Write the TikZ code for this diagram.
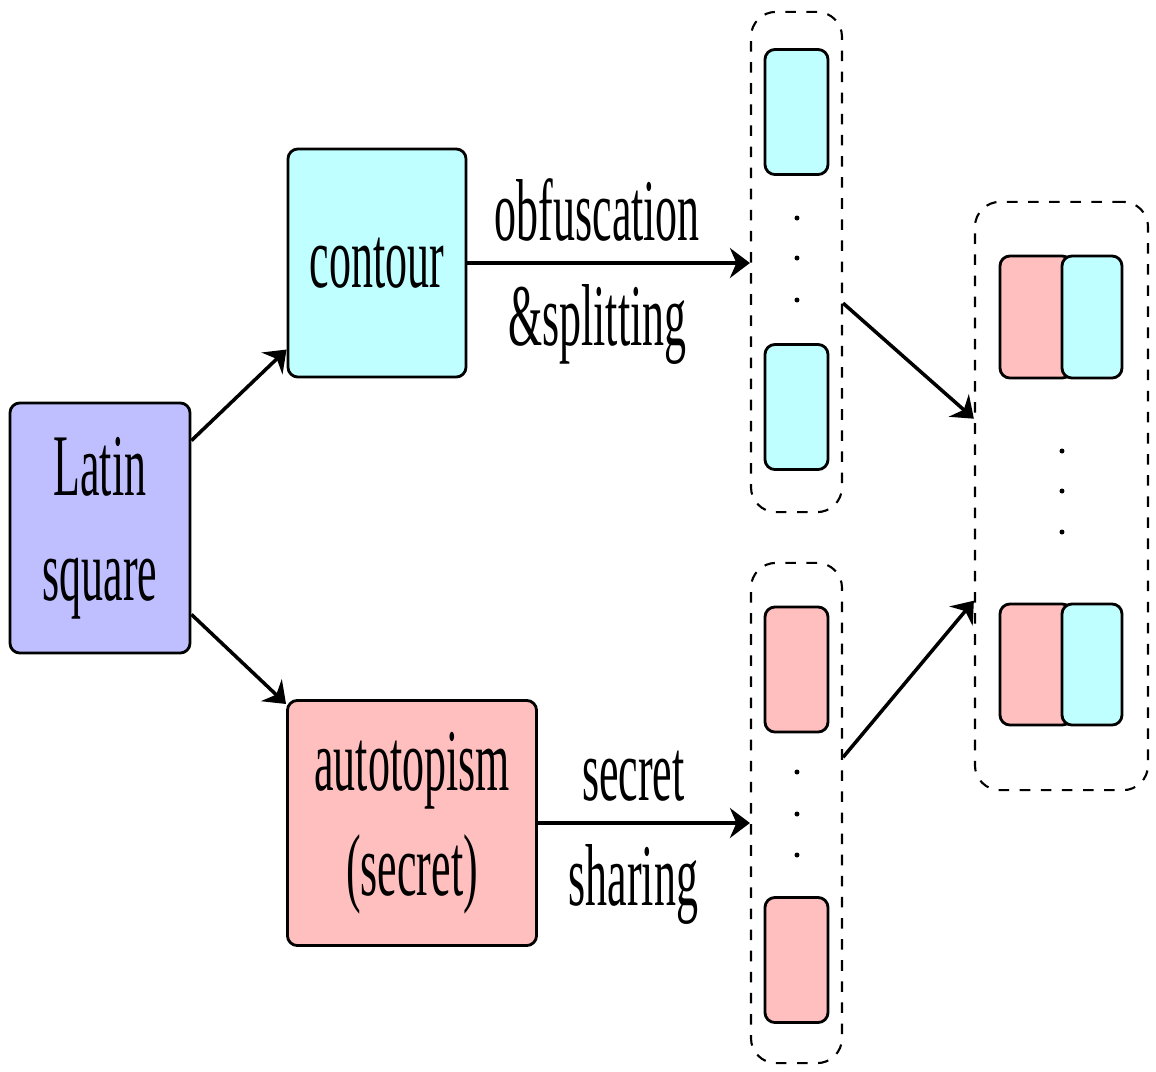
\documentclass[tikz,border=0pt]{standalone}
\usepackage{fontspec}
\setmainfont{Liberation Serif}[FakeStretch=0.5]
\usetikzlibrary{arrows.meta}
\definecolor{lblue}{RGB}{191,191,255}
\definecolor{lcyan}{RGB}{191,255,255}
\definecolor{lpink}{RGB}{255,191,191}

\begin{document}
\begin{tikzpicture}[x=0.01cm, y=-0.01cm, font=\fontsize{25}{30}\selectfont, line join=round, >={Stealth[length=0.2cm,width=0.3cm]},
	box/.style={draw, line width=0.8pt, rounded corners=0.1cm, align=center, inner sep=0pt},
	group/.style={draw, dashed, line width=0.6pt, rounded corners=0.25cm, inner sep=0pt},
	lab/.style={inner sep=0.2cm}]

			\useasboundingbox (0,0) rectangle (1156,1072);
			%\draw[gray!10] (0,0) grid[step=100] (1156,1072);
			\node[box, fill=lblue, minimum width=1.8cm, minimum height=2.5cm] (latin) at (100,528) {Latin\\square};
			\node[box, fill=lcyan, minimum width=1.78cm, minimum height=2.28cm] (contour) at (377,263) {contour};
			\node[box, fill=lpink, minimum width=2.49cm, minimum height=2.45cm] (auto) at (412,823) {autotopism\\(secret)};

			\node[group, minimum width=0.91cm, minimum height=5cm] (grp1) at (796.5,262) {};
			\node[box, fill=lcyan, minimum width=0.63cm, minimum height=1.25cm] (c1) at (796.5,112) {};
			\node[box, fill=lcyan, minimum width=0.63cm, minimum height=1.25cm] (c2) at (796.5,407) {};

			\node[group, minimum width=0.91cm, minimum height=5cm] (grp2) at (796.5,813) {};
			\node[box, fill=lpink, minimum width=0.63cm, minimum height=1.25cm] (p1) at (796.5,669.5) {};
			\node[box, fill=lpink, minimum width=0.63cm, minimum height=1.25cm] (p2) at (796.5,960) {};

			\node[group, minimum width=1.73cm, minimum height=5.88cm] (rgt) at (1061.5,496) {};
			\node[box, fill=lpink, minimum width=0.72cm, minimum height=1.22cm] (ra1) at (1036,317) {};
			\node[box, fill=lcyan, minimum width=0.6cm, minimum height=1.22cm] (rb1) at (1092,317) {};
			\node[box, fill=lpink, minimum width=0.72cm, minimum height=1.21cm] (ra2) at (1036,664.5) {};
			\node[box, fill=lcyan, minimum width=0.6cm, minimum height=1.21cm] (rb2) at (1092,664.5) {};

			\foreach \y in {218,258,300} \fill (797,\y) circle (0.025cm);
			\foreach \y in {772,814,855} \fill (797,\y) circle (0.025cm);
			\foreach \y in {451,491,532} \fill (1062,\y) circle (0.025cm);

			\draw[->, line width=1pt] (latin) -- (contour);
			\draw[->, line width=1pt] (latin) -- (auto);
			\draw[->, line width=1pt] (contour) -- (contour -| grp1.west)
				node[pos=0.46, above, lab] (obf) {obfuscation}
				node[pos=0.46, below, lab] (spl) {\&splitting};
			\draw[->, line width=1pt] (auto) -- (auto -| grp2.west)
				node[pos=0.45, above, lab] (sec) {secret}
				node[pos=0.45, below, lab] (shr) {sharing};
			\draw[->, line width=1pt] (grp1) -- (rgt);
			\draw[->, line width=1pt] (grp2) -- (rgt);
		\end{tikzpicture}
\end{document}
